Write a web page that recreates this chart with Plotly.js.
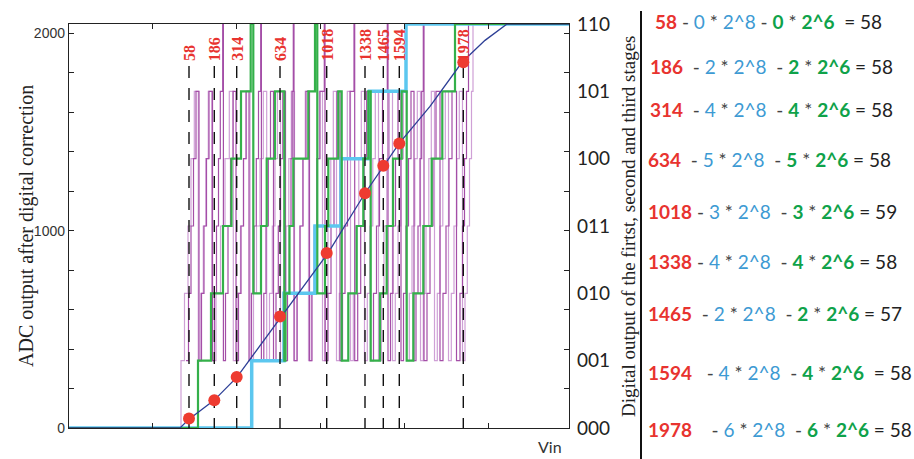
<!DOCTYPE html>
<html><head><meta charset="utf-8">
<script src="https://cdn.plot.ly/plotly-3.0.1.min.js"></script>
<style>html,body{margin:0;padding:0;background:#fff}#chart{width:914px;height:459px}</style>
</head><body><div id="chart"></div>
<script>
// ---- data ----
const vinCodes  = [58, 186, 314, 634, 1018, 1338, 1465, 1594, 1978];
const stage1    = [0, 2, 4, 5, 3, 4, 2, 4, 6];
const stage2    = [0, 2, 4, 5, 3, 4, 2, 4, 6];
const corrected = [58, 58, 58, 58, 59, 58, 57, 58, 58];
const markVin   = [120, 145.3, 167.7, 211, 257.7, 296, 314.3, 330.3, 394.3];
const markOut   = [48, 141, 259, 565, 887, 1190, 1329, 1442, 1854];
const curveVin  = [0, 111, 120, 145, 168, 212, 259, 296, 315, 330, 361, 393, 416, 438, 500];
const curveOut  = [0, 0, 45, 140, 258, 565, 887, 1190, 1329, 1442, 1630, 1854, 1965, 2048, 2048];
const codeLabels = ['000','001','010','011','100','101','110'];
const leftTicks  = [0,200,400,600,800,1000,1200,1400,1600,1800,2000];
const leftText   = ['0','','','','','1000','','','','','2000'];
// first stage
const s1Vin  = [0, 182.7, 215, 246, 272, 300.5, 337, 500];
const s1Code = [0, 1, 2, 3, 4, 5, 6, 6];
// second stage
const s2Vin  = [0,129,142,154,162.5,172,181.7,184.3,192,197.7,206,215.3,216.5,220.5,224.3,239.3,246,248.3,256,259.3,269.3,272.7,279.3,287.7,294.3,299.3,301.7,311,317.7,324,332.7,337.7,344.3,354.3,362.7,373.3,386,500];
const s2Code = [0,1,2,3,4,5,6,2,3,4,5,1,2,3,4,5,6,2,3,4,5,1,2,3,4,5,1,2,3,4,5,1,2,3,4,5,6,6];
// third stage (light trace)
const s3aVin = [0,112,115.5,119,122,125.3,129.3,131.8,134.3,136.8,139.3,142.7,147,151.5,156,160.3,164.3,168,171.5,174.5,177.5,181,184.5,187.5,191,194.3,197.7,200.5,203.3,206,208.5,211.5,214.3,217,219.8,222.3,225.5,228.3,231,233.8,236.3,239.5,242.3,245,247.8,250.3,253.5,256.3,259,261.8,264.3,267.5,270.3,273,275.8,278.3,281.5,284.3,287,289.8,292.3,295.5,298.3,301,303.8,306.3,309.5,312.3,315,317.8,320.3,323.5,326.3,329,331.8,334.3,337.5,340.3,343,345.8,348.3,351.5,354.3,357,359.8,362.3,365.5,368.3,371,373.8,376.3,379.5,382.3,385,387.8,390.3,393.5,396,398.3,400.5,402.5,404,500];
const s3aCode = [0,1,2,3,4,5,1,2,3,4,5,1,2,3,4,5,1,2,3,4,5,1,2,3,4,5,1,2,3,4,5,1,2,3,4,5,1,2,3,4,5,1,2,3,4,5,1,2,3,4,5,1,2,3,4,5,1,2,3,4,5,1,2,3,4,5,1,2,3,4,5,1,2,3,4,5,1,2,3,4,5,1,2,3,4,5,1,2,3,4,5,1,2,3,4,5,1,2,3,4,5,6,6];
// third stage (dark trace)
const s3bVin = [117,119.5,122,124.5,127,130,132.5,135,137.5,140,143.5,145.5,147.5,149.5,151.3,153.7,154.4,156.5,159,161.5,164,167,169.5,172,174.5,177,180,182.5,185,187.3,189.5,191.7,192.4,194.8,197,199.3,201.5,204.5,207,209.3,211.5,213.8,216.5,218.5,220.3,222,223.2,224.3,225,228,231,234,237,240.5,243,245.5,248,251,255.3,256,259,262,265,268,271,273.5,276,278.5,281,285,285.7,288.7,291.7,294.7,297.7,301.5,304.5,307.5,310.5,313.5,318.3,319,321.5,324,326.5,329,332,334.5,337,339.5,342,345,347,349,351,352.7,354.3,355,358,361,364,367,371,374,377,380,383,387.5,391,393.5,395.5,397.5,399.5,500];
const s3bCode = [1,2,3,4,5,1,2,3,4,5,1,2,3,4,5,6,1,2,3,4,5,1,2,3,4,5,1,2,3,4,5,6,1,2,3,4,5,1,2,3,4,5,1,2,3,4,5,6,1,2,3,4,5,1,2,3,4,5,6,1,2,3,4,5,1,2,3,4,5,6,1,2,3,4,5,1,2,3,4,5,6,1,2,3,4,5,1,2,3,4,5,1,2,3,4,5,6,1,2,3,4,5,1,2,3,4,5,1,2,3,4,5,6,6];

// ---- styles ----
const RED = '#e8332f', BLUE = '#3d9ad3', GREEN = '#0fa24a';
const W = 500, H = 404, L = 69, T = 24;
const px2paperY = y => (T + H - y) / H;
const px2paperX = x => (x - L) / W;

const traces = [
  {x: s3aVin, y: s3aCode, yaxis: 'y', mode: 'lines', line: {shape: 'hv', color: '#cfa0d6', width: 1.2}, hoverinfo: 'skip'},
  {x: s3bVin, y: s3bCode, yaxis: 'y', mode: 'lines', line: {shape: 'hv', color: '#a44ea7', width: 1.2}, hoverinfo: 'skip'},
  {x: s1Vin, y: s1Code, yaxis: 'y', mode: 'lines', line: {shape: 'hv', color: '#5cc7ef', width: 3.5}, hoverinfo: 'skip'},
  {x: s2Vin, y: s2Code, yaxis: 'y', mode: 'lines', line: {shape: 'hv', color: '#34b04a', width: 2.2}, hoverinfo: 'skip'}
];
markVin.forEach(v => traces.push({x: [v, v], y: [1835, 0], yaxis: 'y2', mode: 'lines',
  line: {color: '#111', width: 1.4, dash: '12px,10px'}, hoverinfo: 'skip'}));
traces.push({x: curveVin, y: curveOut, yaxis: 'y2', mode: 'lines', line: {color: '#2d3f96', width: 1.3}});
traces.push({x: markVin, y: markOut, yaxis: 'y2', mode: 'markers', marker: {size: 12, color: '#ee3b30'}});

const annotations = [];
vinCodes.forEach((c, i) => annotations.push({x: markVin[i], y: 1850, xref: 'x', yref: 'y2', text: '<b>' + c + '</b>',
  textangle: -90, showarrow: false, xanchor: 'center', yanchor: 'bottom',
  font: {family: 'Liberation Serif', size: 16, color: RED}}));

const rowY = [21.7, 66.7, 110, 159.3, 211.7, 261.7, 313.3, 372.7, 429.3];
const rowX = [653, 648, 648, 646, 646, 646, 646, 646, 646];
const padA = ['', '\u00a0', '\u00a0', '\u00a0', '', '', '\u00a0', '\u00a0\u00a0', '\u00a0\u00a0\u00a0'];
const padB = ['', '\u00a0', '\u00a0', '\u00a0', '\u00a0', '\u00a0', '\u00a0', '\u00a0', '\u00a0'];
const padC = ['\u00a0', '', '', '', '', '', '', '\u00a0', ''];
const op = s => `<span style="color:#444">${s}</span>`;
vinCodes.forEach((c, i) => {
  const txt = `<b><span style="color:${RED}">${c}</span></b>${op(padA[i] + ' - ')}` +
    `<span style="color:${BLUE}">${stage1[i]}</span>${op(' * ')}<span style="color:${BLUE}">2^8</span>` +
    `${op(padB[i] + ' - ')}<b><span style="color:${GREEN}">${stage2[i]}</span></b>${op(' * ')}` +
    `<b><span style="color:${GREEN}">2^6</span></b><span style="color:#222">${padC[i]} = ${corrected[i]}</span>`;
  annotations.push({xref: 'paper', yref: 'paper', x: px2paperX(rowX[i]), y: px2paperY(rowY[i]),
    xanchor: 'left', yanchor: 'middle', showarrow: false, text: txt,
    font: {family: 'Lato', size: 19, color: '#222'}});
});
annotations.push({xref: 'paper', yref: 'paper', x: px2paperX(26), y: 0.5, textangle: -90, showarrow: false,
  xanchor: 'center', yanchor: 'middle', text: 'ADC output after digital correction',
  font: {family: 'Liberation Serif', size: 20, color: '#222'}});
annotations.push({xref: 'paper', yref: 'paper', x: px2paperX(628), y: px2paperY(226), textangle: -90, showarrow: false,
  xanchor: 'center', yanchor: 'middle', text: 'Digital output of the firtst, second and third stages',
  font: {family: 'Liberation Serif', size: 19, color: '#222'}});
annotations.push({xref: 'paper', yref: 'paper', x: px2paperX(550), y: px2paperY(446), showarrow: false,
  xanchor: 'center', yanchor: 'middle', text: 'Vin', font: {family: 'Lato', size: 16, color: '#333'}});

const layout = {
  width: 914, height: 459, showlegend: false,
  paper_bgcolor: '#fff', plot_bgcolor: '#fff',
  margin: {l: L, r: 914 - L - W, t: T, b: 459 - T - H, pad: 0},
  xaxis: {range: [0, 500], tick0: 0, dtick: 83.8, ticks: 'inside', ticklen: 5, tickcolor: '#222',
    showticklabels: false, showline: true, linecolor: '#222', linewidth: 1.2, mirror: 'ticks',
    showgrid: false, zeroline: false},
  yaxis: {side: 'right', range: [0, 6], tickvals: [0,1,2,3,4,5,6], ticktext: codeLabels, ticks: '',
    showline: false, showgrid: false, zeroline: false, ticklabelstandoff: 7,
    tickfont: {family: 'Lato', size: 19, color: '#222'}},
  yaxis2: {overlaying: 'y', side: 'left', range: [0, 2048], tickvals: leftTicks, ticktext: leftText,
    ticks: 'inside', ticklen: 5, tickcolor: '#222', showline: true, linecolor: '#222', linewidth: 1.2,
    mirror: 'ticks', showgrid: false, zeroline: false,
    tickfont: {family: 'Liberation Sans', size: 14, color: '#333'}},
  annotations: annotations,
  shapes: [{type: 'line', xref: 'paper', yref: 'paper', x0: px2paperX(641), x1: px2paperX(641),
    y0: px2paperY(11), y1: px2paperY(459), line: {color: '#111', width: 2}}]
};
Plotly.newPlot('chart', traces, layout, {displayModeBar: false, staticPlot: true});
</script></body></html>
